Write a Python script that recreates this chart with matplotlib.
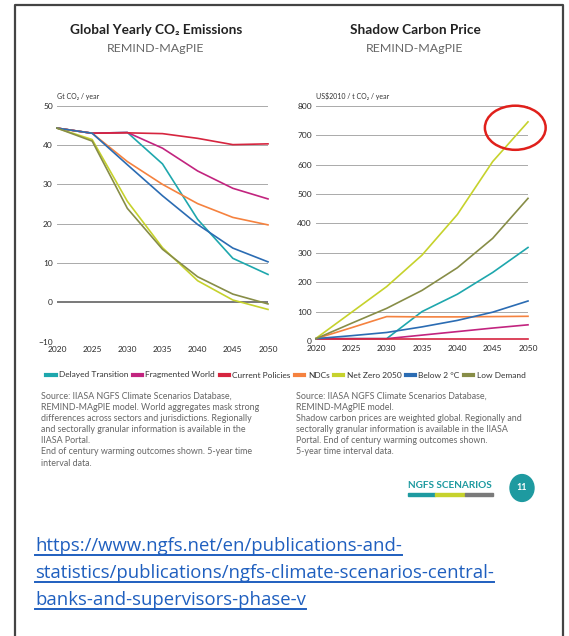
import numpy as np
import matplotlib.pyplot as plt
from matplotlib.lines import Line2D
from matplotlib.patches import Ellipse, Rectangle, Circle

plt.rcParams['font.family'] = ['Lato', 'DejaVu Sans']

years = [2020, 2025, 2030, 2035, 2040, 2045, 2050]
scenarios = ['Delayed Transition', 'Fragmented World', 'Current Policies', 'NDCs',
             'Net Zero 2050', 'Below 2 °C', 'Low Demand']
colors = ['#1ea7ad', '#c2247f', '#d6253f', '#f5823f', '#c6d22c', '#2b6cb3', '#878d47']

emissions = {
    'Delayed Transition': [44.3, 43.0, 43.2, 35.2, 21.1, 11.2, 7.1],
    'Fragmented World': [44.3, 43.0, 43.2, 39.2, 33.4, 29.0, 26.3],
    'Current Policies': [44.3, 43.0, 43.1, 42.9, 41.7, 40.1, 40.3],
    'NDCs': [44.3, 43.0, 35.8, 30.0, 25.1, 21.6, 19.7],
    'Net Zero 2050': [44.3, 41.4, 25.7, 13.9, 5.5, 0.6, -1.8],
    'Below 2 °C': [44.3, 43.0, 35.0, 27.1, 19.8, 13.8, 10.3],
    'Low Demand': [44.3, 41.0, 23.9, 13.5, 6.5, 2.1, -0.4],
}
prices = {
    'Delayed Transition': [8, 8, 8, 100, 159, 233, 318],
    'Fragmented World': [8, 8, 8, 20, 32, 44, 55],
    'Current Policies': [8, 8, 8, 8, 8, 8, 8],
    'NDCs': [8, 45, 83, 82, 82, 83, 84],
    'Net Zero 2050': [9, 97, 185, 292, 430, 610, 745],
    'Below 2 °C': [8, 18, 29, 48, 70, 98, 136],
    'Low Demand': [8, 60, 111, 172, 249, 349, 485],
}

W, H = 569, 636
fig = plt.figure(figsize=(W / 100, H / 100), dpi=100)


def px(x, y):
    return x / W, 1 - y / H


def setup(ax, ticks, ylim, unit, zero_dark=False):
    ax.set_xlim(2020, 2050)
    ax.set_ylim(*ylim)
    for s in ax.spines.values():
        s.set_visible(False)
    ax.set_yticks(ticks)
    ax.set_xticks(years)
    ax.tick_params(length=0, labelsize=6, colors='#2a2a2a', pad=3)
    for t in ticks:
        c, lw = ('#555555', 1.1) if (zero_dark and t == 0) else ('#aaaaaa', 0.7)
        ax.axhline(t, color=c, lw=lw, zorder=0)
    ax.text(0, 1.025, unit, transform=ax.transAxes, fontsize=5, color='#333333',
            va='bottom', ha='left')


ax1 = fig.add_axes([57 / W, 1 - 341.7 / H, 211 / W, 236 / H])
ax2 = fig.add_axes([316 / W, 1 - 341 / H, 212 / W, 235.3 / H])
setup(ax1, range(-10, 51, 10), (-10, 50), 'Gt CO₂ / year', zero_dark=True)
setup(ax2, range(0, 801, 100), (0, 800), 'US$2010 / t CO₂ / year')

for name, c in zip(scenarios, colors):
    ax1.plot(years, emissions[name], color=c, lw=1.2, clip_on=False)
    ax2.plot(years, prices[name], color=c, lw=1.2, clip_on=False)

ax2.add_patch(Ellipse((2048.2, 725), 8.6, 150, fill=False, edgecolor='#e0201b',
                      lw=1.8, clip_on=False, zorder=5))

# titles
for xc, title in [(156, 'Global Yearly CO₂ Emissions'), (415, 'Shadow Carbon Price')]:
    fig.text(*px(xc, 30), title, ha='center', va='center', fontsize=9.8,
             fontweight='bold', color='#222222')
    fig.text(*px(xc, 48), 'REMIND-MAgPIE', ha='center', va='center', fontsize=8.9,
             color='#666666')

handles = [Line2D([], [], color=c, lw=3) for c in colors]
fig.legend(handles, scenarios, loc='center', bbox_to_anchor=px(286, 375), ncol=7,
           frameon=False, fontsize=6.0, handlelength=1.1, handletextpad=0.4,
           columnspacing=0.55, labelcolor='#333333')

src_left = ("Source: IIASA NGFS Climate Scenarios Database,\n"
            "REMIND-MAgPIE model. World aggregates mask strong\n"
            "differences across sectors and jurisdictions. Regionally\n"
            "and sectorally granular information is available in the\n"
            "IIASA Portal.\n"
            "End of century warming outcomes shown. 5-year time\n"
            "interval data.")
src_right = ("Source: IIASA NGFS Climate Scenarios Database,\n"
             "REMIND-MAgPIE model.\n"
             "Shadow carbon prices are weighted global. Regionally and\n"
             "sectorally granular information is available in the IIASA\n"
             "Portal. End of century warming outcomes shown.\n"
             "5-year time interval data.")
fig.text(*px(41, 392), src_left, ha='left', va='top', fontsize=6.4,
         color='#666666', linespacing=1.3)
fig.text(*px(296, 392), src_right, ha='left', va='top', fontsize=6.4,
         color='#666666', linespacing=1.3)

# NGFS badge
fig.text(*px(450, 485), 'NGFS SCENARIOS', ha='center', va='center', fontsize=7.2,
         fontweight='bold', color='#1e9aa0')
for x0, x1, c in [(408, 435, '#1e9aa0'), (435, 465, '#c6d22c'), (465, 493, '#7a7a7a')]:
    fig.patches.append(Rectangle(px(x0, 496), (x1 - x0) / W, 3.5 / H,
                                 transform=fig.transFigure, color=c))
fig.patches.append(Circle(px(522, 488), 12 / W, transform=fig.transFigure,
                          color='#1e9aa0'))
fig.text(*px(522, 488), '11', ha='center', va='center', fontsize=6.5,
         fontweight='bold', color='white')

# link
link = ['https://www.ngfs.net/en/publications-and-',
        'statistics/publications/ngfs-climate-scenarios-central-',
        'banks-and-supervisors-phase-v']
texts = []
for i, line in enumerate(link):
    texts.append(fig.text(*px(35, 551 + 27 * i), line, ha='left', va='baseline',
                          fontsize=13.3, color='#1f5fbf',
                          family=['Open Sans', 'DejaVu Sans']))
fig.canvas.draw()
r = fig.canvas.get_renderer()
for i, t in enumerate(texts):
    bb = t.get_window_extent(r)
    y = 554.5 + 27 * i
    fig.add_artist(Line2D([bb.x0 / W, bb.x1 / W], [1 - y / H] * 2, color='#1f5fbf',
                          lw=1.4, transform=fig.transFigure))

# page frame
fig.add_artist(Line2D([15 / W, 15 / W, 562.5 / W, 562.5 / W],
                      [0, 1 - 5 / H, 1 - 5 / H, 0], color='#444444', lw=1.6,
                      transform=fig.transFigure))

fig.savefig('out.png', dpi=100)
